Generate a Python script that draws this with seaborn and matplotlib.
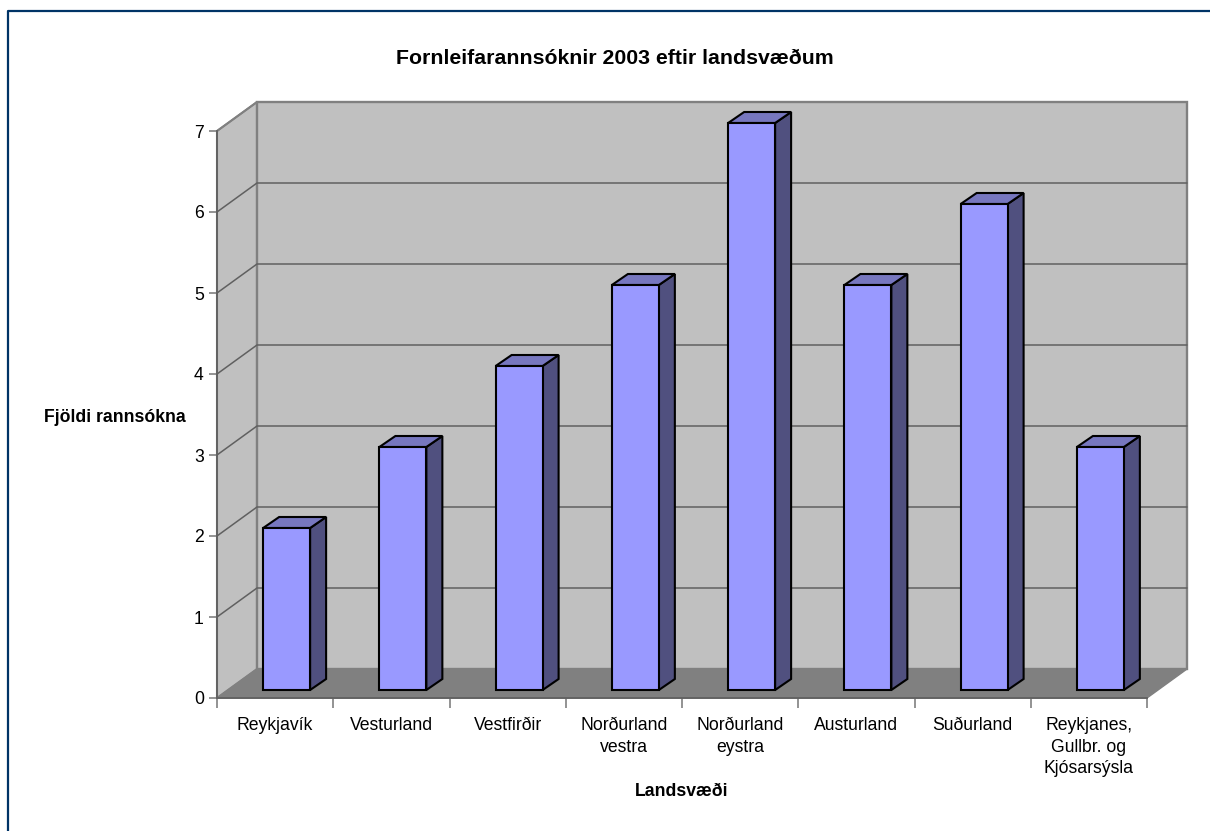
import numpy as np, pandas as pd
import matplotlib
matplotlib.use("Agg")
import matplotlib.pyplot as plt
from matplotlib.lines import Line2D
from matplotlib.patches import Polygon
from matplotlib.transforms import Affine2D
import seaborn as sns

regions = ["Reykjavík", "Vesturland", "Vestfirðir", "Norðurland\nvestra", "Norðurland\neystra",
           "Austurland", "Suðurland", "Reykjanes,\nGullbr. og\nKjósarsýsla"]
counts = [2, 3, 4, 5, 7, 5, 6, 3]
y_ticks = [0, 1, 2, 3, 4, 5, 6, 7]

W, H = 1210, 831
GREY = '#808080'
SIZE_LABEL = 12.7
sns.set_theme(style="white")
plt.rcParams['font.family'] = ['Liberation Sans', 'DejaVu Sans']

fig = plt.figure(figsize=(W/100, H/100), dpi=100)
fig.patch.set_facecolor('white')
ax = fig.add_axes([217/W, 1-698/H, 930/W, 567/H])
ax.patch.set_alpha(0)

df = pd.DataFrame({"region": regions, "count": counts})
sns.barplot(data=df, x="region", y="count", ax=ax, width=0.404, color='#9999FF', saturation=1,
            edgecolor='black', linewidth=1.3, zorder=5)
ax.set_xlim(-0.5, 7.5); ax.set_ylim(0, 7)

# fake 3D: everything is pushed back from the axes plane by a pixel offset
back = ax.transData + Affine2D().translate(40, 29)
to_back = lambda x, y: back.transform((x, y))
front = ax.transData

def poly(pts, **kw):
    p = Polygon(pts, closed=True, clip_on=False, **kw)
    fig.add_artist(p)
    p.set_transform(Affine2D())
    return p

x0, x1 = -0.5, 7.5
y0, y1 = 0, 7
# walls and floor
poly([front.transform((x0, y0)), to_back(x0, y0), to_back(x0, y1), front.transform((x0, y1))],
     facecolor='#C0C0C0', edgecolor=GREY, linewidth=1.5, zorder=1)
poly([to_back(x0, y0), to_back(x1, y0), to_back(x1, y1), to_back(x0, y1)],
     facecolor='#C0C0C0', edgecolor=GREY, linewidth=1.7, zorder=1)
poly([front.transform((x0, y0)), front.transform((x1, y0)), to_back(x1, y0), to_back(x0, y0)],
     facecolor=GREY, edgecolor=GREY, linewidth=1, zorder=1)
for v in y_ticks[1:-1]:
    a, b, c = front.transform((x0, v)), to_back(x0, v), to_back(x1, v)
    fig.add_artist(Line2D([a[0], b[0], c[0]], [a[1], b[1], c[1]], color='#606060', linewidth=1.1,
                          transform=Affine2D(), zorder=2))
a, b = front.transform((x0, y1)), to_back(x0, y1)
fig.add_artist(Line2D([a[0], b[0]], [a[1], b[1]], color=GREY, linewidth=1.3, transform=Affine2D(), zorder=2))

# bars sit 11.5/8 px behind the front plane, side faces go 16/11 px further
bx, by = 11.5, 8
dx, dy = 16, 11
for patch in ax.patches:
    xl, w, h = patch.get_x(), patch.get_width(), patch.get_height()
    ll = front.transform((xl, 0)) + (bx, by)
    lr = front.transform((xl+w, 0)) + (bx, by)
    tl = front.transform((xl, h)) + (bx, by)
    tr = front.transform((xl+w, h)) + (bx, by)
    off = np.array([dx, dy])
    poly([lr, lr+off, tr+off, tr], facecolor='#50507F', edgecolor='black', linewidth=1.5, zorder=3)
    poly([tl, tr, tr+off, tl+off], facecolor='#7777BF', edgecolor='black', linewidth=1.5, zorder=3)
    poly([ll, lr, tr, tl], facecolor='#9999FF', edgecolor='black', linewidth=1.5, zorder=4)
    patch.set_visible(False)

ax.set_yticks(y_ticks)
ax.set_xticks(np.arange(-0.5, 8, 1), minor=True)
ax.tick_params(axis='x', which='major', bottom=False, length=0, labelsize=SIZE_LABEL, pad=14, colors='black')
ax.tick_params(axis='x', which='minor', bottom=True, length=7.5, width=1.2, color=GREY)
ax.tick_params(axis='y', which='major', left=True, length=6, width=1.2, color=GREY,
               labelsize=SIZE_LABEL, pad=3.5, labelcolor='black')
for lab in ax.get_xticklabels():
    lab.set_linespacing(1.32)
for name in ['top', 'right']:
    ax.spines[name].set_visible(False)
for name in ['left', 'bottom']:
    ax.spines[name].set_visible(True); ax.spines[name].set_color('#606060'); ax.spines[name].set_linewidth(1.3)
ax.set_zorder(6)
ax.set_xlabel(""); ax.set_ylabel("")

fig.text(615/W, 1-58.5/H, "Fornleifarannsóknir 2003 eftir landsvæðum", ha='center', va='center',
         fontsize=15.3, fontweight='bold', color='black')
fig.text(115/W, 1-417/H, "Fjöldi rannsókna", ha='center', va='center', fontsize=SIZE_LABEL, fontweight='bold', color='black')
fig.text(682/W, 1-792/H, "Landsvæði", ha='center', va='center', fontsize=SIZE_LABEL, fontweight='bold', color='black')

# frame, top and left only are inside the picture
fig.add_artist(Line2D([8/W, 8/W, 1], [0, 1-11/H, 1-11/H], color='#003366', linewidth=1.6, transform=fig.transFigure))

fig.savefig("out.png", dpi=100)
